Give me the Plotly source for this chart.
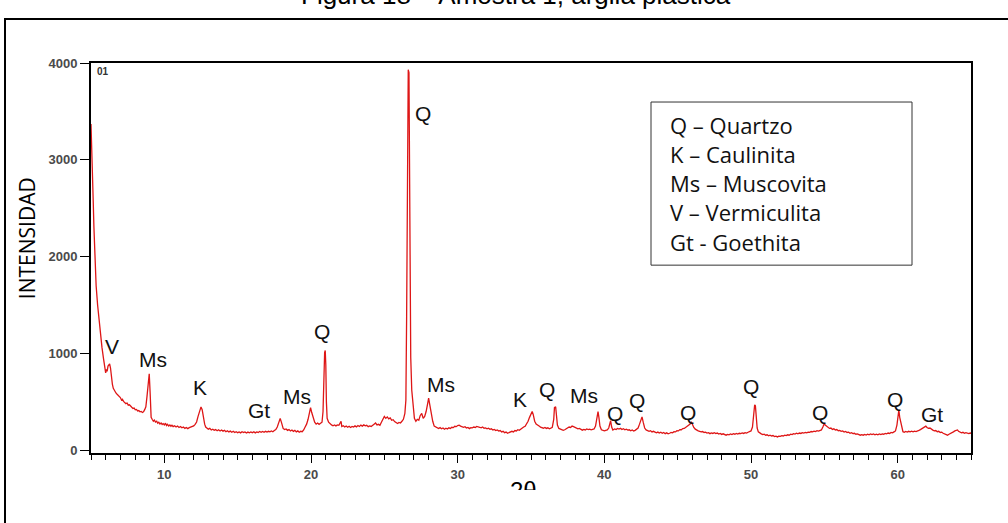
import plotly.graph_objects as go

# ---- XRD scan: (2θ in degrees, intensity in counts) ----
xrd_scan = [
    (5.00, 3370), (5.05, 3000), (5.10, 2700), (5.15, 2580), (5.20, 2300), (5.25, 2000),
    (5.35, 1700), (5.45, 1500), (5.55, 1330), (5.65, 1180), (5.75, 1060), (5.85, 950),
    (5.93, 860), (6.00, 800), (6.05, 835), (6.10, 815), (6.16, 870), (6.22, 885), (6.27, 892),
    (6.33, 850), (6.40, 740), (6.46, 680), (6.52, 640), (6.60, 615), (6.70, 592), (6.78, 578),
    (6.86, 566), (6.94, 552), (7.00, 545), (7.08, 520), (7.14, 528), (7.22, 505), (7.30, 498),
    (7.38, 482), (7.46, 488), (7.54, 466), (7.62, 470), (7.70, 450), (7.78, 444), (7.86, 432),
    (7.94, 436), (8.02, 418), (8.10, 422), (8.18, 406), (8.26, 410), (8.34, 398), (8.42, 402),
    (8.50, 390), (8.58, 398), (8.66, 420), (8.74, 450), (8.82, 560), (8.90, 700), (8.97, 790),
    (9.03, 600), (9.10, 340), (9.18, 318), (9.25, 300), (9.32, 312), (9.40, 292), (9.48, 300),
    (9.55, 280), (9.62, 290), (9.70, 272), (9.78, 282), (9.85, 266), (9.92, 276), (10.0, 262),
    (10.08, 280), (10.15, 256), (10.22, 268), (10.3, 250), (10.38, 262), (10.45, 248),
    (10.52, 258), (10.6, 244), (10.7, 254), (10.8, 240), (10.9, 250), (11.0, 236), (11.1, 246),
    (11.2, 232), (11.3, 240), (11.4, 226), (11.5, 236), (11.6, 224), (11.7, 234), (11.8, 238),
    (11.9, 246), (12.0, 252), (12.1, 268), (12.2, 292), (12.3, 350), (12.4, 410), (12.5, 448),
    (12.58, 420), (12.66, 340), (12.75, 270), (12.82, 240), (12.9, 228), (13.0, 218),
    (13.1, 226), (13.2, 210), (13.3, 218), (13.4, 206), (13.5, 214), (13.6, 202), (13.7, 212),
    (13.8, 200), (13.9, 210), (14.0, 198), (14.1, 206), (14.2, 192), (14.3, 202), (14.4, 190),
    (14.5, 198), (14.6, 186), (14.7, 196), (14.8, 184), (14.9, 192), (15.0, 182), (15.1, 190),
    (15.2, 180), (15.3, 192), (15.4, 184), (15.5, 190), (15.6, 178), (15.7, 188), (15.8, 180),
    (15.9, 190), (16.0, 182), (16.1, 192), (16.2, 180), (16.3, 190), (16.4, 184), (16.5, 194),
    (16.6, 186), (16.7, 194), (16.8, 186), (16.9, 196), (17.0, 188), (17.1, 196), (17.2, 190),
    (17.3, 200), (17.4, 192), (17.5, 204), (17.6, 214), (17.7, 240), (17.8, 290), (17.9, 330),
    (18.0, 280), (18.1, 226), (18.2, 214), (18.3, 220), (18.4, 206), (18.5, 214), (18.6, 200),
    (18.7, 210), (18.8, 196), (18.9, 206), (19.0, 190), (19.1, 200), (19.2, 186), (19.3, 196),
    (19.4, 192), (19.5, 210), (19.6, 240), (19.7, 270), (19.8, 320), (19.88, 380), (19.97, 440),
    (20.05, 390), (20.15, 330), (20.25, 290), (20.35, 270), (20.45, 282), (20.55, 268),
    (20.65, 278), (20.75, 290), (20.82, 400), (20.88, 800), (20.93, 1010), (20.97, 1030),
    (21.01, 880), (21.05, 500), (21.1, 330), (21.2, 290), (21.3, 270), (21.4, 262), (21.5, 254),
    (21.6, 262), (21.7, 252), (21.8, 262), (21.9, 258), (22.0, 282), (22.05, 300), (22.1, 246),
    (22.2, 254), (22.3, 240), (22.4, 250), (22.5, 238), (22.6, 248), (22.7, 236), (22.8, 246),
    (22.9, 240), (23.0, 252), (23.1, 242), (23.2, 256), (23.3, 246), (23.4, 260), (23.5, 250),
    (23.6, 262), (23.7, 252), (23.8, 258), (23.9, 244), (24.0, 252), (24.1, 246), (24.2, 262),
    (24.3, 270), (24.4, 282), (24.5, 262), (24.6, 268), (24.7, 258), (24.8, 290), (24.9, 330),
    (25.0, 350), (25.1, 330), (25.2, 345), (25.3, 325), (25.4, 335), (25.5, 310), (25.6, 316),
    (25.7, 296), (25.8, 290), (25.9, 276), (26.0, 288), (26.1, 282), (26.2, 300), (26.3, 320),
    (26.4, 380), (26.47, 520), (26.52, 1380), (26.58, 2800), (26.63, 3930), (26.68, 3900),
    (26.72, 3000), (26.76, 1500), (26.80, 960), (26.87, 620), (26.95, 480), (27.05, 330),
    (27.15, 300), (27.25, 320), (27.35, 310), (27.45, 360), (27.55, 380), (27.65, 330),
    (27.75, 350), (27.85, 400), (27.95, 480), (28.02, 540), (28.1, 470), (28.2, 380),
    (28.3, 300), (28.4, 250), (28.5, 240), (28.6, 232), (28.7, 224), (28.8, 234), (28.9, 222),
    (29.0, 230), (29.1, 218), (29.2, 228), (29.3, 220), (29.4, 232), (29.5, 226), (29.6, 238),
    (29.7, 234), (29.8, 248), (29.9, 244), (30.0, 256), (30.1, 260), (30.2, 250), (30.3, 246),
    (30.4, 238), (30.5, 244), (30.6, 230), (30.7, 236), (30.8, 224), (30.9, 234), (31.0, 232),
    (31.1, 240), (31.2, 236), (31.3, 246), (31.4, 244), (31.5, 238), (31.6, 232), (31.7, 240),
    (31.8, 228), (31.9, 232), (32.0, 222), (32.1, 228), (32.2, 216), (32.3, 222), (32.4, 210),
    (32.5, 216), (32.6, 204), (32.7, 210), (32.8, 198), (32.9, 204), (33.0, 190), (33.1, 196),
    (33.2, 182), (33.3, 188), (33.4, 176), (33.5, 180), (33.6, 186), (33.7, 196), (33.8, 190),
    (33.9, 204), (34.0, 200), (34.1, 212), (34.2, 206), (34.3, 220), (34.4, 226), (34.5, 240),
    (34.6, 248), (34.7, 270), (34.8, 300), (34.9, 340), (35.0, 380), (35.08, 400), (35.15, 370),
    (35.25, 300), (35.35, 270), (35.45, 256), (35.55, 250), (35.65, 240), (35.75, 236),
    (35.85, 228), (35.95, 236), (36.05, 226), (36.15, 232), (36.25, 222), (36.35, 228),
    (36.45, 236), (36.55, 320), (36.6, 440), (36.68, 450), (36.74, 380), (36.8, 260),
    (36.9, 226), (37.0, 220), (37.1, 214), (37.2, 206), (37.3, 212), (37.4, 220), (37.5, 232),
    (37.6, 240), (37.7, 236), (37.8, 250), (37.9, 244), (38.0, 236), (38.1, 232), (38.2, 222),
    (38.3, 226), (38.4, 212), (38.5, 208), (38.6, 216), (38.7, 210), (38.8, 220), (38.9, 214),
    (39.0, 218), (39.1, 212), (39.2, 216), (39.3, 220), (39.4, 250), (39.5, 370), (39.57, 400),
    (39.63, 340), (39.7, 250), (39.8, 212), (39.9, 208), (40.0, 200), (40.1, 206), (40.2, 210),
    (40.3, 230), (40.38, 300), (40.43, 305), (40.5, 240), (40.58, 210), (40.7, 220),
    (40.8, 214), (40.9, 226), (41.0, 220), (41.1, 228), (41.2, 214), (41.3, 222), (41.4, 212),
    (41.5, 218), (41.6, 208), (41.7, 212), (41.8, 202), (41.9, 210), (42.0, 200), (42.1, 206),
    (42.2, 214), (42.3, 230), (42.4, 270), (42.5, 330), (42.57, 345), (42.65, 290),
    (42.75, 230), (42.85, 210), (42.95, 206), (43.05, 196), (43.15, 202), (43.25, 190),
    (43.35, 196), (43.45, 184), (43.55, 180), (43.65, 188), (43.75, 178), (43.85, 186),
    (43.95, 176), (44.05, 184), (44.15, 172), (44.25, 180), (44.35, 170), (44.45, 176),
    (44.55, 184), (44.65, 180), (44.75, 192), (44.85, 190), (44.95, 202), (45.05, 200),
    (45.15, 214), (45.25, 212), (45.35, 224), (45.45, 226), (45.55, 238), (45.65, 242),
    (45.75, 256), (45.85, 270), (45.93, 295), (46.0, 270), (46.1, 236), (46.2, 218),
    (46.3, 206), (46.4, 200), (46.5, 196), (46.6, 190), (46.7, 194), (46.8, 184), (46.9, 188),
    (47.0, 178), (47.1, 182), (47.2, 172), (47.3, 180), (47.4, 174), (47.5, 182), (47.6, 172),
    (47.7, 178), (47.8, 168), (47.9, 174), (48.0, 164), (48.1, 170), (48.2, 160), (48.3, 156),
    (48.4, 164), (48.5, 160), (48.6, 168), (48.7, 162), (48.8, 172), (48.9, 166), (49.0, 174),
    (49.1, 168), (49.2, 176), (49.3, 172), (49.4, 180), (49.5, 174), (49.6, 182), (49.7, 178),
    (49.8, 186), (49.9, 190), (50.0, 200), (50.1, 240), (50.18, 400), (50.25, 470),
    (50.3, 460), (50.36, 360), (50.42, 230), (50.5, 190), (50.6, 176), (50.7, 170),
    (50.8, 162), (50.9, 166), (51.0, 156), (51.1, 160), (51.2, 150), (51.3, 156), (51.4, 148),
    (51.5, 152), (51.6, 142), (51.7, 146), (51.8, 138), (51.9, 146), (52.0, 144), (52.1, 152),
    (52.2, 148), (52.3, 156), (52.4, 152), (52.5, 160), (52.6, 156), (52.7, 166), (52.8, 162),
    (52.9, 172), (53.0, 168), (53.1, 176), (53.2, 170), (53.3, 178), (53.4, 174), (53.5, 182),
    (53.6, 178), (53.7, 184), (53.8, 180), (53.9, 188), (54.0, 186), (54.1, 194), (54.2, 190),
    (54.3, 198), (54.4, 194), (54.5, 202), (54.6, 198), (54.7, 206), (54.8, 210), (54.9, 240),
    (55.0, 276), (55.06, 260), (55.15, 246), (55.25, 240), (55.35, 226), (55.45, 230),
    (55.55, 216), (55.65, 222), (55.75, 210), (55.85, 214), (55.95, 202), (56.05, 206),
    (56.15, 196), (56.25, 200), (56.35, 188), (56.45, 194), (56.55, 184), (56.65, 188),
    (56.75, 176), (56.85, 182), (56.95, 172), (57.05, 176), (57.15, 166), (57.25, 170),
    (57.35, 160), (57.45, 156), (57.55, 162), (57.65, 156), (57.75, 164), (57.85, 158),
    (57.95, 166), (58.05, 160), (58.15, 168), (58.25, 162), (58.35, 168), (58.45, 160),
    (58.55, 166), (58.65, 160), (58.75, 168), (58.85, 162), (58.95, 170), (59.05, 166),
    (59.15, 174), (59.25, 170), (59.35, 178), (59.45, 174), (59.55, 184), (59.65, 180),
    (59.75, 190), (59.85, 200), (59.95, 260), (60.02, 360), (60.08, 415), (60.14, 340),
    (60.2, 295), (60.28, 240), (60.36, 192), (60.45, 186), (60.55, 194), (60.65, 188),
    (60.75, 196), (60.85, 190), (60.95, 198), (61.05, 190), (61.15, 198), (61.25, 194),
    (61.35, 204), (61.45, 206), (61.55, 214), (61.65, 222), (61.75, 232), (61.85, 240),
    (61.92, 250), (62.0, 236), (62.1, 226), (62.2, 230), (62.3, 214), (62.4, 208), (62.5, 200),
    (62.6, 204), (62.7, 192), (62.8, 196), (62.9, 184), (63.0, 188), (63.1, 176), (63.2, 172),
    (63.3, 162), (63.4, 156), (63.5, 166), (63.6, 172), (63.7, 180), (63.8, 190), (63.9, 200),
    (64.0, 206), (64.08, 210), (64.15, 196), (64.25, 184), (64.35, 180), (64.45, 186),
    (64.55, 176), (64.65, 182), (64.75, 174), (64.85, 172), (64.95, 178), (65.0, 176),
]
two_theta = [p[0] for p in xrd_scan]
intensity = [p[1] for p in xrd_scan]

# phase labels placed above peaks
label_text = ["V", "Ms", "K", "Gt", "Ms", "Q", "Q", "Ms", "K", "Q", "Ms", "Q", "Q", "Q",
              "Q", "Q", "Q", "Gt"]
label_x = [6.43, 9.23, 12.43, 16.45, 19.04, 20.75, 27.63, 28.86, 34.25, 36.09, 38.61,
           40.73, 42.23, 45.70, 50.00, 54.70, 59.81, 62.33]
label_y = [1075, 940, 651, 413, 558, 1230, 3483, 682, 527, 630, 568,
           382, 517, 393, 661, 393, 527, 372]

legend_lines = ["Q – Quartzo", "K – Caulinita", "Ms – Muscovita", "V – Vermiculita",
                "Gt - Goethita"]

x_ticks = [10, 20, 30, 40, 50, 60]
y_ticks = [0, 1000, 2000, 3000, 4000]

title_text = "Figura 18 – Amostra 1, argila plástica"
y_title = "INTENSIDAD"
x_title = "2θ"

# ---------------------------------------------------------------------------
W, H = 1008, 523
L, R, T, B = 91, 971, 63, 452.7   # plot area in pixels


def px(xp):
    return (xp - L) / (R - L)


def py(yp):
    return (B - yp) / (B - T)


fig = go.Figure()
fig.add_trace(go.Scatter(
    x=two_theta, y=intensity, mode="lines",
    line=dict(color="rgb(222,22,22)", width=1.3),
    hoverinfo="skip", showlegend=False,
))

ann = []
for t, xv, yv in zip(label_text, label_x, label_y):
    ann.append(dict(x=xv, y=yv, xref="x", yref="y", text=t, showarrow=False,
                    font=dict(family="Liberation Sans, Arial", size=21, color="#111111")))

# legend box text
line_y_px = [125, 154, 183, 212, 242]
for t, yp in zip(legend_lines, line_y_px):
    ann.append(dict(x=px(668), y=py(yp), xref="paper", yref="paper", text=t,
                    showarrow=False, xanchor="left", yanchor="middle",
                    font=dict(family="Open Sans, Noto Sans", size=22, color="#111111")))

# "01" marker in corner
ann.append(dict(x=px(95), y=py(71), xref="paper", yref="paper", text="01", showarrow=False,
                xanchor="left", yanchor="middle",
                font=dict(family="Liberation Sans, Arial", size=10, color="#333333",
                          weight="bold")))

# y title
ann.append(dict(x=px(27), y=py(238), xref="paper", yref="paper", text=y_title,
                showarrow=False, textangle=-90, xanchor="center", yanchor="middle",
                font=dict(family="Open Sans, Noto Sans", size=21, color="#000000")))

# title (cut by the page top)
ann.append(dict(x=px(516), y=py(12), xref="paper", yref="paper", text=title_text,
                showarrow=False, xanchor="center", yanchor="bottom",
                font=dict(family="Liberation Sans Narrow, Arial Narrow, Liberation Sans",
                          size=26, color="#000000")))

# x title (partially covered)
ann.append(dict(x=px(523), y=py(475), xref="paper", yref="paper", text=x_title,
                showarrow=False, xanchor="center", yanchor="top",
                font=dict(family="Liberation Sans, Arial", size=24, color="#000000")))
# white patch covering the lower part of the x title
ann.append(dict(x=px(447), y=py(490), xref="paper", yref="paper", text=" ",
                showarrow=False, xanchor="left", yanchor="top", width=165, height=24,
                bgcolor="white", borderpad=0, borderwidth=0))

shapes = [
    # outer frame
    dict(type="rect", xref="paper", yref="paper", x0=px(5), x1=px(1012), y0=py(540),
         y1=py(19), line=dict(color="black", width=2), layer="below"),
    # legend box
    dict(type="rect", xref="paper", yref="paper", x0=px(651), x1=px(912), y0=py(265),
         y1=py(102), line=dict(color="#333333", width=1), fillcolor="white", layer="above"),
    # faint line under the white patch
    dict(type="line", xref="paper", yref="paper", x0=px(448), x1=px(610), y0=py(497),
         y1=py(497), line=dict(color="#eeeeee", width=1)),
]

fig.update_layout(
    width=W, height=H,
    margin=dict(l=L, r=W - R, t=T, b=H - B, pad=0),
    paper_bgcolor="white", plot_bgcolor="white",
    annotations=ann, shapes=shapes, showlegend=False,
)
fig.update_xaxes(
    range=[5, 65], tickvals=x_ticks, ticks="outside", ticklen=8, tickwidth=1,
    tickcolor="black", showgrid=False, zeroline=False,
    showline=True, linecolor="black", linewidth=2, mirror=True,
    tickfont=dict(family="Liberation Sans, Arial", size=13, color="#4a4a4a", weight="bold"),
    minor=dict(dtick=1, ticks="outside", ticklen=5, tickcolor="black", tickwidth=1,
               showgrid=False),
)
fig.update_yaxes(
    range=[-28, 4000], tickvals=y_ticks, ticks="outside", ticklen=9, tickwidth=1,
    tickcolor="black", showgrid=False, zeroline=False,
    showline=True, linecolor="black", linewidth=2, mirror=True,
    tickfont=dict(family="Liberation Sans, Arial", size=13, color="#4a4a4a", weight="bold"),
)

fig.write_html(
    "out.html",
    config={"displayModeBar": False},
    post_script="document.body.style.margin='0';document.body.style.overflow='hidden';",
)
